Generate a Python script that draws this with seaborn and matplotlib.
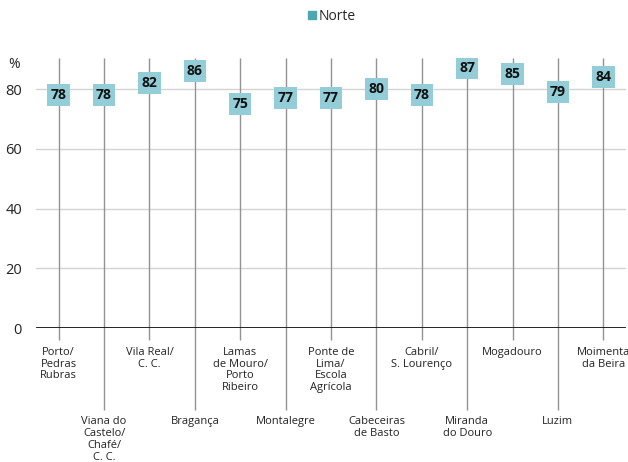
import matplotlib
matplotlib.use("Agg")
import matplotlib.pyplot as plt
from matplotlib.lines import Line2D
import seaborn as sns
import pandas as pd

stations = ["Porto/\nPedras\nRubras", "Viana do\nCastelo/\nChafé/\nC. C.", "Vila Real/\nC. C.",
            "Bragança", "Lamas\nde Mouro/\nPorto\nRibeiro", "Montalegre", "Ponte de\nLima/\nEscola\nAgrícola",
            "Cabeceiras\nde Basto", "Cabril/\nS. Lourenço", "Miranda\ndo Douro", "Mogadouro",
            "Luzim", "Moimenta\nda Beira"]
values = [78, 78, 82, 86, 75, 77, 77, 80, 78, 87, 85, 79, 84]
yticks = [0, 20, 40, 60, 80]
series_name = "Norte"

sns.set_theme(style="white")
plt.rcParams['font.family'] = ['Open Sans', 'DejaVu Sans']

fig = plt.figure(figsize=(6.28, 4.62), dpi=100)
ax = fig.add_axes([36/628, 1-328/462, 590/628, 270/462])

df = pd.DataFrame({"x": range(len(values)), "v": values, "name": stations})
ymax = 90.4
ax.set_xlim(-0.5, len(values) - 0.5)
ax.set_ylim(0, ymax)

for t in yticks[1:]:
    ax.axhline(t, color="#d3d3d3", lw=1, zorder=0)

for i in range(len(values)):
    low = -4.0 if i % 2 == 0 else -27.4
    ax.vlines(i, low, ymax, color="#939393", lw=1, zorder=1, clip_on=False)
    ty = -6.3 if i % 2 == 0 else -29.6
    ax.text(i, ty, stations[i], ha="center", va="top", fontsize=8, color="#222222",
            linespacing=1.1, clip_on=False)

ax.axhline(0, color="#111111", lw=2, zorder=2)

sns.scatterplot(data=df, x="x", y="v", marker="s", s=260, color="#92cdd8",
                edgecolor="none", ax=ax, zorder=3, legend=False)
for i, v in enumerate(values):
    ax.text(i, v, str(v), ha="center", va="center", fontsize=10, fontweight="bold",
            color="#111111", zorder=4)

ax.set_xticks([])
ax.set_yticks(yticks)
ax.set_yticklabels([str(t) for t in yticks], fontsize=10.5, color="#222222")
ax.tick_params(axis="y", length=0, pad=10)
ax.set_xlabel("")
ax.set_ylabel("")
for s in ax.spines.values():
    s.set_visible(False)
fig.text(14/628, 1-64/462, "%", fontsize=10, ha="center", va="center", color="#222222")

handle = Line2D([], [], marker="s", linestyle="none", color="#4ba8b0", markersize=5.5)
fig.legend([handle], [series_name], loc="center", bbox_to_anchor=(331/628, 1-16/462),
           frameon=False, fontsize=10, handletextpad=0.1, handlelength=0.8)

fig.savefig("out.png", dpi=100)
